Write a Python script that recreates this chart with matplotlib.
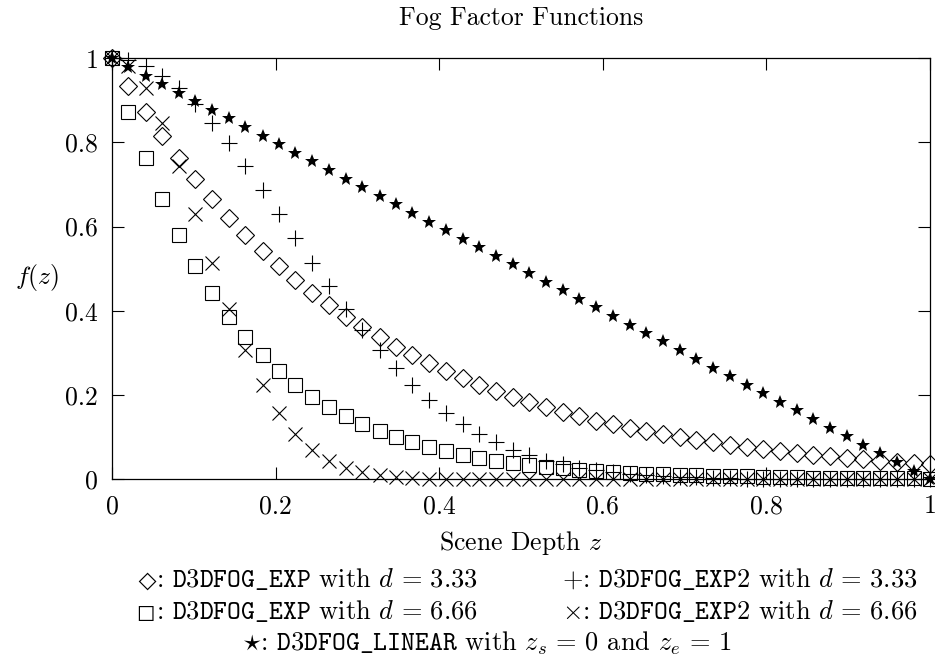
import numpy as np
import matplotlib
matplotlib.use("Agg")
import matplotlib.pyplot as plt

plt.rcParams['font.family'] = ['cmr10', 'DejaVu Sans']
plt.rcParams['mathtext.fontset'] = 'cm'
plt.rcParams['axes.unicode_minus'] = False
plt.rcParams['axes.formatter.use_mathtext'] = True

# scene depth samples
z = [0.000, 0.020, 0.041, 0.061, 0.082, 0.102, 0.122, 0.143, 0.163, 0.184,
     0.204, 0.224, 0.245, 0.265, 0.286, 0.306, 0.327, 0.347, 0.367, 0.388,
     0.408, 0.429, 0.449, 0.469, 0.490, 0.510, 0.531, 0.551, 0.571, 0.592,
     0.612, 0.633, 0.653, 0.673, 0.694, 0.714, 0.735, 0.755, 0.776, 0.796,
     0.816, 0.837, 0.857, 0.878, 0.898, 0.918, 0.939, 0.959, 0.980, 1.000]

# D3DFOG_EXP, d = 3.33
exp_333 = [1.000, 0.934, 0.873, 0.816, 0.762, 0.712, 0.665, 0.621, 0.581, 0.543,
           0.507, 0.474, 0.442, 0.413, 0.386, 0.361, 0.337, 0.315, 0.294, 0.275,
           0.257, 0.240, 0.224, 0.210, 0.196, 0.183, 0.171, 0.160, 0.149, 0.139,
           0.130, 0.122, 0.114, 0.106, 0.099, 0.093, 0.087, 0.081, 0.076, 0.071,
           0.066, 0.062, 0.058, 0.054, 0.050, 0.047, 0.044, 0.041, 0.038, 0.036]

# D3DFOG_EXP, d = 6.66
exp_666 = [1.000, 0.873, 0.762, 0.665, 0.581, 0.507, 0.442, 0.386, 0.337, 0.294,
           0.257, 0.224, 0.196, 0.171, 0.149, 0.130, 0.114, 0.099, 0.087, 0.076,
           0.066, 0.058, 0.050, 0.044, 0.038, 0.034, 0.029, 0.026, 0.022, 0.019,
           0.017, 0.015, 0.013, 0.011, 0.010, 0.009, 0.008, 0.007, 0.006, 0.005,
           0.004, 0.004, 0.003, 0.003, 0.003, 0.002, 0.002, 0.002, 0.002, 0.001]

# D3DFOG_EXP2, d = 3.33
exp2_333 = [1.000, 0.995, 0.982, 0.959, 0.929, 0.891, 0.847, 0.798, 0.744, 0.688,
            0.630, 0.572, 0.514, 0.458, 0.405, 0.354, 0.307, 0.263, 0.224, 0.189,
            0.158, 0.131, 0.107, 0.087, 0.070, 0.056, 0.044, 0.035, 0.027, 0.021,
            0.016, 0.012, 0.009, 0.007, 0.005, 0.004, 0.003, 0.002, 0.001, 0.001,
            0.001, 0.000, 0.000, 0.000, 0.000, 0.000, 0.000, 0.000, 0.000, 0.000]

# D3DFOG_EXP2, d = 6.66
exp2_666 = [1.000, 0.982, 0.929, 0.847, 0.744, 0.630, 0.514, 0.405, 0.307, 0.224,
            0.158, 0.107, 0.070, 0.044, 0.027, 0.016, 0.009, 0.005, 0.003, 0.001,
            0.001, 0.000, 0.000, 0.000, 0.000, 0.000, 0.000, 0.000, 0.000, 0.000,
            0.000, 0.000, 0.000, 0.000, 0.000, 0.000, 0.000, 0.000, 0.000, 0.000,
            0.000, 0.000, 0.000, 0.000, 0.000, 0.000, 0.000, 0.000, 0.000, 0.000]

# D3DFOG_LINEAR, zs = 0, ze = 1
linear = [1.000, 0.980, 0.959, 0.939, 0.918, 0.898, 0.878, 0.857, 0.837, 0.816,
          0.796, 0.776, 0.755, 0.735, 0.714, 0.694, 0.673, 0.653, 0.633, 0.612,
          0.592, 0.571, 0.551, 0.531, 0.510, 0.490, 0.469, 0.449, 0.429, 0.408,
          0.388, 0.367, 0.347, 0.327, 0.306, 0.286, 0.265, 0.245, 0.224, 0.204,
          0.184, 0.163, 0.143, 0.122, 0.102, 0.082, 0.061, 0.041, 0.020, 0.000]

tick_vals = [0, 0.2, 0.4, 0.6, 0.8, 1]
tick_labels = ['0', '0.2', '0.4', '0.6', '0.8', '1']

fig = plt.figure(figsize=(9.35, 6.62), dpi=100)
ax = fig.add_axes([0.1198, 0.2764, 0.8749, 0.6355])

kw = dict(linestyle='none', color='black', markerfacecolor='none', markeredgewidth=0.8, clip_on=False)
ax.plot(z, exp_333, marker='D', markersize=8.8, **kw)
ax.plot(z, exp_666, marker='s', markersize=10.4, **kw)
ax.plot(z, exp2_333, marker='+', markersize=12, **kw)
ax.plot(z, exp2_666, marker='x', markersize=9.5, **kw)
ax.plot(z, linear, linestyle='none', color='black', marker='*', markersize=10, markeredgewidth=0, clip_on=False)

ax.set_xlim(0, 1)
ax.set_ylim(0, 1)
ax.set_xticks(tick_vals)
ax.set_xticklabels(tick_labels)
ax.set_yticks(tick_vals)
ax.set_yticklabels(tick_labels)
ax.tick_params(direction='in', length=8.6, width=0.8, top=True, right=True, labelsize=18.5)
ax.tick_params(axis='x', pad=11)
ax.tick_params(axis='y', pad=10)
for s in ax.spines.values():
    s.set_linewidth(0.9)

ax.set_xlabel('Scene Depth $z$', fontsize=18.5, labelpad=8)
ax.set_ylabel('$f(z)$', fontsize=18.5, rotation=0, ha='center', va='center')
ax.yaxis.set_label_coords(-0.092, 0.48)

fig.text(0.557, 0.962, 'Fog Factor Functions', fontsize=18.5, ha='center', va='baseline')

# key below the plot
fs = 19
row1, row2, row3 = 0.1133, 0.0650, 0.0166
fig.text(0.1460, row1 + 0.002, '$\u25c7$', fontsize=13, ha='left', va='baseline')
fig.text(0.1672, row1, ': $\\mathtt{D3DFOG\\_EXP}$ with $d\\,=\\,3.33$', fontsize=fs, ha='left', va='baseline')
fig.text(0.6010, row1, r'$+$: $\mathtt{D3DFOG\_EXP2}$ with $d\,=\,3.33$', fontsize=fs, ha='left', va='baseline')
fig.text(0.1465, row2 + 0.001, '$\u25a1$', fontsize=13, ha='left', va='baseline')
fig.text(0.1672, row2, ': $\\mathtt{D3DFOG\\_EXP}$ with $d\\,=\\,6.66$', fontsize=fs, ha='left', va='baseline')
fig.text(0.6010, row2, r'$\times$: $\mathtt{D3DFOG\_EXP2}$ with $d\,=\,6.66$', fontsize=fs, ha='left', va='baseline')
fig.text(0.2590, row3, r'$\star$: $\mathtt{D3DFOG\_LINEAR}$ with $z_s\,=\,0$ and $z_e\,=\,1$', fontsize=fs, ha='left', va='baseline')

fig.savefig('out.png', dpi=100)
